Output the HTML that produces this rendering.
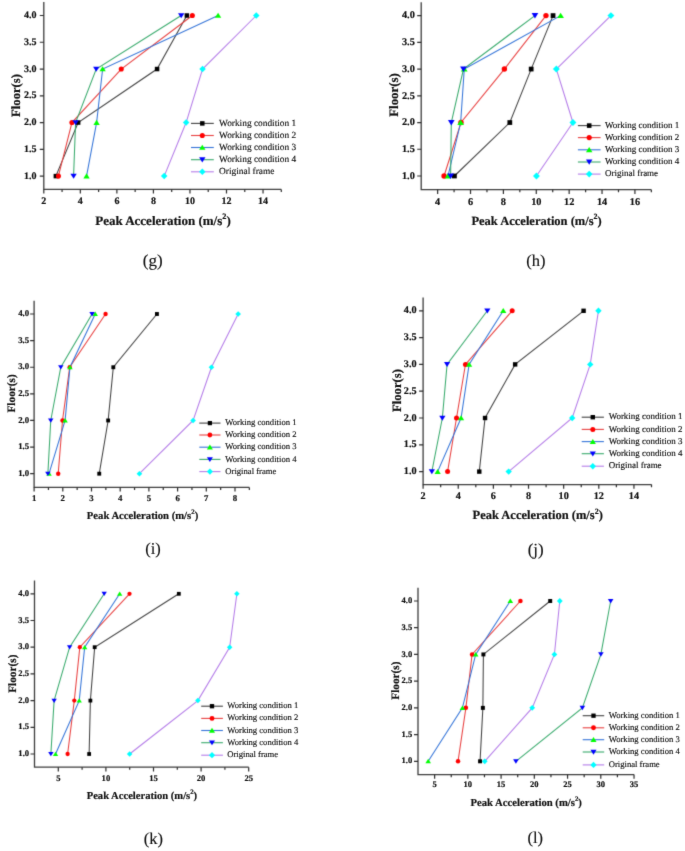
<!DOCTYPE html>
<html><head><meta charset="utf-8"><title>Figure</title>
<style>
html,body{margin:0;padding:0;background:#fff;}
body{width:685px;height:851px;overflow:hidden;}
svg{display:block;}
text{font-family:"Liberation Serif",serif;fill:#141414;text-rendering:geometricPrecision;}
.b{font-weight:bold;stroke:#141414;stroke-width:0.2px;paint-order:stroke fill;}
.r{font-weight:normal;stroke:#141414;stroke-width:0.15px;paint-order:stroke fill;}
</style></head><body>
<svg width="685" height="851" viewBox="0 0 685 851">
<defs><filter id="bl" x="0" y="0" width="685" height="851" filterUnits="userSpaceOnUse" color-interpolation-filters="sRGB"><feConvolveMatrix order="3" kernelMatrix="1 6 1 6 36 6 1 6 1" divisor="64" edgeMode="duplicate" preserveAlpha="true"/></filter><filter id="bt" x="0" y="0" width="685" height="851" filterUnits="userSpaceOnUse" color-interpolation-filters="sRGB"><feConvolveMatrix order="3" kernelMatrix="1 10 1 10 100 10 1 10 1" divisor="144" edgeMode="none"/></filter></defs>
<rect width="685" height="851" fill="#fff"/>
<g filter="url(#bl)">
<rect width="685" height="851" fill="#fff"/>
<path d="M43.80 2.12V189.40H281.31" fill="none" stroke="#3c3c3c" stroke-width="1.3"/>
<path d="M43.80 189.40v4.2 M80.34 189.40v4.2 M116.88 189.40v4.2 M153.42 189.40v4.2 M189.96 189.40v4.2 M226.50 189.40v4.2 M263.04 189.40v4.2 M62.07 189.40v2.6 M98.61 189.40v2.6 M135.15 189.40v2.6 M171.69 189.40v2.6 M208.23 189.40v2.6 M244.77 189.40v2.6 M281.31 189.40v2.6 M43.80 176.10h-4.0 M43.80 149.33h-4.0 M43.80 122.57h-4.0 M43.80 95.80h-4.0 M43.80 69.03h-4.0 M43.80 42.27h-4.0 M43.80 15.50h-4.0" fill="none" stroke="#2c2c2c" stroke-width="1.2"/>
<polyline points="55.86,176.10 78.15,122.57 157.07,69.03 186.85,15.50" fill="none" stroke="#404040" stroke-width="1.05"/>
<polyline points="58.42,176.10 71.94,122.57 121.26,69.03 192.34,15.50" fill="none" stroke="#e84040" stroke-width="1.05"/>
<polyline points="86.55,176.10 96.60,122.57 102.63,69.03 218.10,15.50" fill="none" stroke="#3474d8" stroke-width="1.05"/>
<polyline points="73.58,176.10 75.59,122.57 96.23,69.03 181.19,15.50" fill="none" stroke="#38aa6c" stroke-width="1.05"/>
<polyline points="164.20,176.10 186.12,122.57 202.57,69.03 256.28,15.50" fill="none" stroke="#b47ce8" stroke-width="1.05"/>
<rect x="53.61" y="173.86" width="4.49" height="4.49" fill="#000000"/>
<rect x="75.90" y="120.32" width="4.49" height="4.49" fill="#000000"/>
<rect x="154.83" y="66.79" width="4.49" height="4.49" fill="#000000"/>
<rect x="184.61" y="13.26" width="4.49" height="4.49" fill="#000000"/>
<circle cx="58.42" cy="176.10" r="2.55" fill="#ff0000"/>
<circle cx="71.94" cy="122.57" r="2.55" fill="#ff0000"/>
<circle cx="121.26" cy="69.03" r="2.55" fill="#ff0000"/>
<circle cx="192.34" cy="15.50" r="2.55" fill="#ff0000"/>
<path d="M86.55 173.35L89.71 178.44L83.39 178.44Z" fill="#00ff00"/>
<path d="M96.60 119.81L99.76 124.91L93.44 124.91Z" fill="#00ff00"/>
<path d="M102.63 66.28L105.79 71.37L99.47 71.37Z" fill="#00ff00"/>
<path d="M218.10 12.75L221.26 17.84L214.93 17.84Z" fill="#00ff00"/>
<path d="M73.58 178.85L76.74 173.76L70.42 173.76Z" fill="#0000ff"/>
<path d="M75.59 125.32L78.75 120.23L72.43 120.23Z" fill="#0000ff"/>
<path d="M96.23 71.79L99.40 66.69L93.07 66.69Z" fill="#0000ff"/>
<path d="M181.19 18.25L184.35 13.16L178.03 13.16Z" fill="#0000ff"/>
<path d="M164.20 172.84L167.46 176.10L164.20 179.36L160.94 176.10Z" fill="#00ffff"/>
<path d="M186.12 119.30L189.39 122.57L186.12 125.83L182.86 122.57Z" fill="#00ffff"/>
<path d="M202.57 65.77L205.83 69.03L202.57 72.30L199.30 69.03Z" fill="#00ffff"/>
<path d="M256.28 12.24L259.54 15.50L256.28 18.76L253.02 15.50Z" fill="#00ffff"/>
<line x1="191.00" y1="123.40" x2="213.80" y2="123.40" stroke="#404040" stroke-width="1.1"/>
<rect x="200.06" y="121.16" width="4.49" height="4.49" fill="#000000"/>
<line x1="191.00" y1="135.50" x2="213.80" y2="135.50" stroke="#e84040" stroke-width="1.1"/>
<circle cx="202.30" cy="135.50" r="2.55" fill="#ff0000"/>
<line x1="191.00" y1="147.50" x2="213.80" y2="147.50" stroke="#3474d8" stroke-width="1.1"/>
<path d="M202.30 144.75L205.46 149.84L199.14 149.84Z" fill="#00ff00"/>
<line x1="191.00" y1="159.70" x2="213.80" y2="159.70" stroke="#38aa6c" stroke-width="1.1"/>
<path d="M202.30 162.45L205.46 157.36L199.14 157.36Z" fill="#0000ff"/>
<line x1="191.00" y1="171.80" x2="213.80" y2="171.80" stroke="#b47ce8" stroke-width="1.1"/>
<path d="M202.30 168.54L205.56 171.80L202.30 175.06L199.04 171.80Z" fill="#00ffff"/>
<path d="M421.20 2.23V189.70H651.36" fill="none" stroke="#3c3c3c" stroke-width="1.3"/>
<path d="M437.64 189.70v4.2 M470.52 189.70v4.2 M503.40 189.70v4.2 M536.28 189.70v4.2 M569.16 189.70v4.2 M602.04 189.70v4.2 M634.92 189.70v4.2 M454.08 189.70v2.6 M486.96 189.70v2.6 M519.84 189.70v2.6 M552.72 189.70v2.6 M585.60 189.70v2.6 M618.48 189.70v2.6 M651.36 189.70v2.6 M421.20 176.00h-4.0 M421.20 149.27h-4.0 M421.20 122.53h-4.0 M421.20 95.80h-4.0 M421.20 69.07h-4.0 M421.20 42.33h-4.0 M421.20 15.60h-4.0" fill="none" stroke="#2c2c2c" stroke-width="1.2"/>
<polyline points="454.41,176.00 509.81,122.53 531.18,69.07 553.05,15.60" fill="none" stroke="#404040" stroke-width="1.05"/>
<polyline points="444.05,176.00 460.98,122.53 504.39,69.07 545.98,15.60" fill="none" stroke="#e84040" stroke-width="1.05"/>
<polyline points="448.00,176.00 460.66,122.53 464.27,69.07 560.61,15.60" fill="none" stroke="#3474d8" stroke-width="1.05"/>
<polyline points="450.63,176.00 451.29,122.53 463.45,69.07 534.96,15.60" fill="none" stroke="#38aa6c" stroke-width="1.05"/>
<polyline points="536.44,176.00 572.94,122.53 556.34,69.07 610.92,15.60" fill="none" stroke="#b47ce8" stroke-width="1.05"/>
<rect x="452.03" y="173.62" width="4.75" height="4.75" fill="#000000"/>
<rect x="507.44" y="120.16" width="4.75" height="4.75" fill="#000000"/>
<rect x="528.81" y="66.69" width="4.75" height="4.75" fill="#000000"/>
<rect x="550.67" y="13.22" width="4.75" height="4.75" fill="#000000"/>
<circle cx="444.05" cy="176.00" r="2.70" fill="#ff0000"/>
<circle cx="460.98" cy="122.53" r="2.70" fill="#ff0000"/>
<circle cx="504.39" cy="69.07" r="2.70" fill="#ff0000"/>
<circle cx="545.98" cy="15.60" r="2.70" fill="#ff0000"/>
<path d="M448.00 173.08L451.35 178.48L444.65 178.48Z" fill="#00ff00"/>
<path d="M460.66 119.62L464.00 125.01L457.31 125.01Z" fill="#00ff00"/>
<path d="M464.27 66.15L467.62 71.55L460.92 71.55Z" fill="#00ff00"/>
<path d="M560.61 12.68L563.96 18.08L557.26 18.08Z" fill="#00ff00"/>
<path d="M450.63 178.92L453.98 173.52L447.28 173.52Z" fill="#0000ff"/>
<path d="M451.29 125.45L454.63 120.05L447.94 120.05Z" fill="#0000ff"/>
<path d="M463.45 71.98L466.80 66.59L460.10 66.59Z" fill="#0000ff"/>
<path d="M534.96 18.52L538.31 13.12L531.62 13.12Z" fill="#0000ff"/>
<path d="M536.44 172.54L539.90 176.00L536.44 179.46L532.99 176.00Z" fill="#00ffff"/>
<path d="M572.94 119.08L576.40 122.53L572.94 125.99L569.49 122.53Z" fill="#00ffff"/>
<path d="M556.34 65.61L559.79 69.07L556.34 72.52L552.88 69.07Z" fill="#00ffff"/>
<path d="M610.92 12.14L614.37 15.60L610.92 19.06L607.46 15.60Z" fill="#00ffff"/>
<line x1="577.90" y1="125.60" x2="600.60" y2="125.60" stroke="#404040" stroke-width="1.1"/>
<rect x="586.91" y="123.31" width="4.58" height="4.58" fill="#000000"/>
<line x1="577.90" y1="137.60" x2="600.60" y2="137.60" stroke="#e84040" stroke-width="1.1"/>
<circle cx="589.20" cy="137.60" r="2.60" fill="#ff0000"/>
<line x1="577.90" y1="149.80" x2="600.60" y2="149.80" stroke="#3474d8" stroke-width="1.1"/>
<path d="M589.20 146.99L592.42 152.19L585.98 152.19Z" fill="#00ff00"/>
<line x1="577.90" y1="162.00" x2="600.60" y2="162.00" stroke="#38aa6c" stroke-width="1.1"/>
<path d="M589.20 164.81L592.42 159.61L585.98 159.61Z" fill="#0000ff"/>
<line x1="577.90" y1="174.10" x2="600.60" y2="174.10" stroke="#b47ce8" stroke-width="1.1"/>
<path d="M589.20 170.77L592.53 174.10L589.20 177.43L585.87 174.10Z" fill="#00ffff"/>
<path d="M34.10 300.69V487.40H249.35" fill="none" stroke="#3c3c3c" stroke-width="1.3"/>
<path d="M34.10 487.40v4.2 M62.80 487.40v4.2 M91.50 487.40v4.2 M120.20 487.40v4.2 M148.90 487.40v4.2 M177.60 487.40v4.2 M206.30 487.40v4.2 M235.00 487.40v4.2 M48.45 487.40v2.6 M77.15 487.40v2.6 M105.85 487.40v2.6 M134.55 487.40v2.6 M163.25 487.40v2.6 M191.95 487.40v2.6 M220.65 487.40v2.6 M249.35 487.40v2.6 M34.10 473.70h-4.0 M34.10 447.08h-4.0 M34.10 420.47h-4.0 M34.10 393.85h-4.0 M34.10 367.23h-4.0 M34.10 340.62h-4.0 M34.10 314.00h-4.0" fill="none" stroke="#2c2c2c" stroke-width="1.2"/>
<polyline points="99.25,473.70 108.15,420.47 113.31,367.23 156.94,314.00" fill="none" stroke="#404040" stroke-width="1.05"/>
<polyline points="58.21,473.70 62.51,420.47 69.69,367.23 105.56,314.00" fill="none" stroke="#e84040" stroke-width="1.05"/>
<polyline points="49.02,473.70 65.10,420.47 69.97,367.23 95.23,314.00" fill="none" stroke="#3474d8" stroke-width="1.05"/>
<polyline points="47.88,473.70 50.75,420.47 60.79,367.23 92.07,314.00" fill="none" stroke="#38aa6c" stroke-width="1.05"/>
<polyline points="139.43,473.70 193.10,420.47 211.47,367.23 238.16,314.00" fill="none" stroke="#b47ce8" stroke-width="1.05"/>
<rect x="97.31" y="471.76" width="3.87" height="3.87" fill="#000000"/>
<rect x="106.21" y="418.53" width="3.87" height="3.87" fill="#000000"/>
<rect x="111.38" y="365.30" width="3.87" height="3.87" fill="#000000"/>
<rect x="155.00" y="312.06" width="3.87" height="3.87" fill="#000000"/>
<circle cx="58.21" cy="473.70" r="2.20" fill="#ff0000"/>
<circle cx="62.51" cy="420.47" r="2.20" fill="#ff0000"/>
<circle cx="69.69" cy="367.23" r="2.20" fill="#ff0000"/>
<circle cx="105.56" cy="314.00" r="2.20" fill="#ff0000"/>
<path d="M49.02 471.32L51.75 475.72L46.30 475.72Z" fill="#00ff00"/>
<path d="M65.10 418.09L67.82 422.49L62.37 422.49Z" fill="#00ff00"/>
<path d="M69.97 364.86L72.70 369.25L67.25 369.25Z" fill="#00ff00"/>
<path d="M95.23 311.62L97.96 316.02L92.50 316.02Z" fill="#00ff00"/>
<path d="M47.88 476.08L50.60 471.68L45.15 471.68Z" fill="#0000ff"/>
<path d="M50.75 422.84L53.47 418.45L48.02 418.45Z" fill="#0000ff"/>
<path d="M60.79 369.61L63.52 365.21L58.06 365.21Z" fill="#0000ff"/>
<path d="M92.07 316.38L94.80 311.98L89.35 311.98Z" fill="#0000ff"/>
<path d="M139.43 470.88L142.25 473.70L139.43 476.52L136.61 473.70Z" fill="#00ffff"/>
<path d="M193.10 417.65L195.91 420.47L193.10 423.28L190.28 420.47Z" fill="#00ffff"/>
<path d="M211.47 364.42L214.28 367.23L211.47 370.05L208.65 367.23Z" fill="#00ffff"/>
<path d="M238.16 311.18L240.97 314.00L238.16 316.82L235.34 314.00Z" fill="#00ffff"/>
<line x1="199.30" y1="423.10" x2="220.50" y2="423.10" stroke="#404040" stroke-width="1.1"/>
<rect x="207.79" y="420.99" width="4.22" height="4.22" fill="#000000"/>
<line x1="199.30" y1="435.00" x2="220.50" y2="435.00" stroke="#e84040" stroke-width="1.1"/>
<circle cx="209.90" cy="435.00" r="2.40" fill="#ff0000"/>
<line x1="199.30" y1="447.20" x2="220.50" y2="447.20" stroke="#3474d8" stroke-width="1.1"/>
<path d="M209.90 444.61L212.88 449.40L206.92 449.40Z" fill="#00ff00"/>
<line x1="199.30" y1="459.40" x2="220.50" y2="459.40" stroke="#38aa6c" stroke-width="1.1"/>
<path d="M209.90 461.99L212.88 457.20L206.92 457.20Z" fill="#0000ff"/>
<line x1="199.30" y1="471.60" x2="220.50" y2="471.60" stroke="#b47ce8" stroke-width="1.1"/>
<path d="M209.90 468.53L212.97 471.60L209.90 474.67L206.83 471.60Z" fill="#00ffff"/>
<path d="M423.10 297.40V484.60H651.51" fill="none" stroke="#3c3c3c" stroke-width="1.3"/>
<path d="M423.10 484.60v4.2 M458.24 484.60v4.2 M493.38 484.60v4.2 M528.52 484.60v4.2 M563.66 484.60v4.2 M598.80 484.60v4.2 M633.94 484.60v4.2 M440.67 484.60v2.6 M475.81 484.60v2.6 M510.95 484.60v2.6 M546.09 484.60v2.6 M581.23 484.60v2.6 M616.37 484.60v2.6 M651.51 484.60v2.6 M423.10 471.60h-4.0 M423.10 444.80h-4.0 M423.10 418.00h-4.0 M423.10 391.20h-4.0 M423.10 364.40h-4.0 M423.10 337.60h-4.0 M423.10 310.80h-4.0" fill="none" stroke="#2c2c2c" stroke-width="1.2"/>
<polyline points="479.28,471.60 485.05,418.00 515.15,364.40 583.58,310.80" fill="none" stroke="#404040" stroke-width="1.05"/>
<polyline points="447.60,471.60 456.53,418.00 465.45,364.40 512.18,310.80" fill="none" stroke="#e84040" stroke-width="1.05"/>
<polyline points="437.62,471.60 461.07,418.00 469.12,364.40 503.25,310.80" fill="none" stroke="#3474d8" stroke-width="1.05"/>
<polyline points="431.85,471.60 442.35,418.00 447.08,364.40 487.32,310.80" fill="none" stroke="#38aa6c" stroke-width="1.05"/>
<polyline points="508.68,471.60 572.20,418.00 590.23,364.40 598.45,310.80" fill="none" stroke="#b47ce8" stroke-width="1.05"/>
<rect x="477.08" y="469.40" width="4.40" height="4.40" fill="#000000"/>
<rect x="482.85" y="415.80" width="4.40" height="4.40" fill="#000000"/>
<rect x="512.95" y="362.20" width="4.40" height="4.40" fill="#000000"/>
<rect x="581.38" y="308.60" width="4.40" height="4.40" fill="#000000"/>
<circle cx="447.60" cy="471.60" r="2.50" fill="#ff0000"/>
<circle cx="456.53" cy="418.00" r="2.50" fill="#ff0000"/>
<circle cx="465.45" cy="364.40" r="2.50" fill="#ff0000"/>
<circle cx="512.18" cy="310.80" r="2.50" fill="#ff0000"/>
<path d="M437.62 468.90L440.73 473.90L434.52 473.90Z" fill="#00ff00"/>
<path d="M461.07 415.30L464.18 420.30L457.97 420.30Z" fill="#00ff00"/>
<path d="M469.12 361.70L472.23 366.70L466.02 366.70Z" fill="#00ff00"/>
<path d="M503.25 308.10L506.35 313.10L500.15 313.10Z" fill="#00ff00"/>
<path d="M431.85 474.30L434.95 469.31L428.75 469.31Z" fill="#0000ff"/>
<path d="M442.35 420.70L445.45 415.70L439.25 415.70Z" fill="#0000ff"/>
<path d="M447.08 367.10L450.18 362.11L443.98 362.11Z" fill="#0000ff"/>
<path d="M487.32 313.50L490.43 308.50L484.22 308.50Z" fill="#0000ff"/>
<path d="M508.68 468.40L511.88 471.60L508.68 474.80L505.48 471.60Z" fill="#00ffff"/>
<path d="M572.20 414.80L575.40 418.00L572.20 421.20L569.00 418.00Z" fill="#00ffff"/>
<path d="M590.23 361.20L593.43 364.40L590.23 367.60L587.02 364.40Z" fill="#00ffff"/>
<path d="M598.45 307.60L601.65 310.80L598.45 314.00L595.25 310.80Z" fill="#00ffff"/>
<line x1="581.70" y1="417.20" x2="603.90" y2="417.20" stroke="#404040" stroke-width="1.1"/>
<rect x="590.60" y="415.00" width="4.40" height="4.40" fill="#000000"/>
<line x1="581.70" y1="429.40" x2="603.90" y2="429.40" stroke="#e84040" stroke-width="1.1"/>
<circle cx="592.80" cy="429.40" r="2.50" fill="#ff0000"/>
<line x1="581.70" y1="441.60" x2="603.90" y2="441.60" stroke="#3474d8" stroke-width="1.1"/>
<path d="M592.80 438.90L595.90 443.90L589.70 443.90Z" fill="#00ff00"/>
<line x1="581.70" y1="453.70" x2="603.90" y2="453.70" stroke="#38aa6c" stroke-width="1.1"/>
<path d="M592.80 456.40L595.90 451.40L589.70 451.40Z" fill="#0000ff"/>
<line x1="581.70" y1="466.20" x2="603.90" y2="466.20" stroke="#b47ce8" stroke-width="1.1"/>
<path d="M592.80 463.00L596.00 466.20L592.80 469.40L589.60 466.20Z" fill="#00ffff"/>
<path d="M34.50 580.45V767.20H248.70" fill="none" stroke="#3c3c3c" stroke-width="1.3"/>
<path d="M58.30 767.20v4.2 M105.90 767.20v4.2 M153.50 767.20v4.2 M201.10 767.20v4.2 M248.70 767.20v4.2 M82.10 767.20v2.6 M129.70 767.20v2.6 M177.30 767.20v2.6 M224.90 767.20v2.6 M34.50 754.00h-4.0 M34.50 727.30h-4.0 M34.50 700.60h-4.0 M34.50 673.90h-4.0 M34.50 647.20h-4.0 M34.50 620.50h-4.0 M34.50 593.80h-4.0" fill="none" stroke="#2c2c2c" stroke-width="1.2"/>
<polyline points="89.14,754.00 90.38,700.60 94.67,647.20 178.82,593.80" fill="none" stroke="#404040" stroke-width="1.05"/>
<polyline points="67.63,754.00 74.29,700.60 79.82,647.20 129.51,593.80" fill="none" stroke="#e84040" stroke-width="1.05"/>
<polyline points="55.54,754.00 79.24,700.60 84.67,647.20 119.70,593.80" fill="none" stroke="#3474d8" stroke-width="1.05"/>
<polyline points="50.87,754.00 54.11,700.60 69.63,647.20 104.19,593.80" fill="none" stroke="#38aa6c" stroke-width="1.05"/>
<polyline points="129.60,754.00 197.86,700.60 229.66,647.20 236.90,593.80" fill="none" stroke="#b47ce8" stroke-width="1.05"/>
<rect x="87.25" y="752.11" width="3.78" height="3.78" fill="#000000"/>
<rect x="88.49" y="698.71" width="3.78" height="3.78" fill="#000000"/>
<rect x="92.77" y="645.31" width="3.78" height="3.78" fill="#000000"/>
<rect x="176.93" y="591.91" width="3.78" height="3.78" fill="#000000"/>
<circle cx="67.63" cy="754.00" r="2.15" fill="#ff0000"/>
<circle cx="74.29" cy="700.60" r="2.15" fill="#ff0000"/>
<circle cx="79.82" cy="647.20" r="2.15" fill="#ff0000"/>
<circle cx="129.51" cy="593.80" r="2.15" fill="#ff0000"/>
<path d="M55.54 751.68L58.21 755.97L52.87 755.97Z" fill="#00ff00"/>
<path d="M79.24 698.28L81.91 702.57L76.58 702.57Z" fill="#00ff00"/>
<path d="M84.67 644.88L87.34 649.17L82.00 649.17Z" fill="#00ff00"/>
<path d="M119.70 591.48L122.37 595.77L117.04 595.77Z" fill="#00ff00"/>
<path d="M50.87 756.32L53.54 752.03L48.21 752.03Z" fill="#0000ff"/>
<path d="M54.11 702.92L56.78 698.63L51.45 698.63Z" fill="#0000ff"/>
<path d="M69.63 649.52L72.29 645.23L66.96 645.23Z" fill="#0000ff"/>
<path d="M104.19 596.12L106.85 591.83L101.52 591.83Z" fill="#0000ff"/>
<path d="M129.60 751.25L132.36 754.00L129.60 756.75L126.85 754.00Z" fill="#00ffff"/>
<path d="M197.86 697.85L200.62 700.60L197.86 703.35L195.11 700.60Z" fill="#00ffff"/>
<path d="M229.66 644.45L232.41 647.20L229.66 649.95L226.91 647.20Z" fill="#00ffff"/>
<path d="M236.90 591.05L239.65 593.80L236.90 596.55L234.14 593.80Z" fill="#00ffff"/>
<line x1="201.20" y1="706.20" x2="222.90" y2="706.20" stroke="#404040" stroke-width="1.1"/>
<rect x="209.84" y="704.04" width="4.31" height="4.31" fill="#000000"/>
<line x1="201.20" y1="718.40" x2="222.90" y2="718.40" stroke="#e84040" stroke-width="1.1"/>
<circle cx="212.00" cy="718.40" r="2.45" fill="#ff0000"/>
<line x1="201.20" y1="730.50" x2="222.90" y2="730.50" stroke="#3474d8" stroke-width="1.1"/>
<path d="M212.00 727.85L215.04 732.75L208.96 732.75Z" fill="#00ff00"/>
<line x1="201.20" y1="742.70" x2="222.90" y2="742.70" stroke="#38aa6c" stroke-width="1.1"/>
<path d="M212.00 745.35L215.04 740.45L208.96 740.45Z" fill="#0000ff"/>
<line x1="201.20" y1="755.20" x2="222.90" y2="755.20" stroke="#b47ce8" stroke-width="1.1"/>
<path d="M212.00 752.06L215.14 755.20L212.00 758.34L208.86 755.20Z" fill="#00ffff"/>
<path d="M418.00 587.64V774.60H634.03" fill="none" stroke="#3c3c3c" stroke-width="1.3"/>
<path d="M434.62 774.60v4.2 M467.85 774.60v4.2 M501.09 774.60v4.2 M534.32 774.60v4.2 M567.56 774.60v4.2 M600.79 774.60v4.2 M634.03 774.60v4.2 M451.24 774.60v2.6 M484.47 774.60v2.6 M517.71 774.60v2.6 M550.94 774.60v2.6 M584.17 774.60v2.6 M617.41 774.60v2.6 M418.00 761.30h-4.0 M418.00 734.58h-4.0 M418.00 707.87h-4.0 M418.00 681.15h-4.0 M418.00 654.43h-4.0 M418.00 627.72h-4.0 M418.00 601.00h-4.0" fill="none" stroke="#2c2c2c" stroke-width="1.2"/>
<polyline points="480.07,761.30 482.87,707.87 483.40,654.43 550.20,601.00" fill="none" stroke="#404040" stroke-width="1.05"/>
<polyline points="458.03,761.30 465.89,707.87 472.08,654.43 520.43,601.00" fill="none" stroke="#e84040" stroke-width="1.05"/>
<polyline points="428.19,761.30 462.42,707.87 475.68,654.43 510.31,601.00" fill="none" stroke="#3474d8" stroke-width="1.05"/>
<polyline points="515.90,761.30 582.37,707.87 600.88,654.43 610.67,601.00" fill="none" stroke="#38aa6c" stroke-width="1.05"/>
<polyline points="484.73,761.30 532.22,707.87 554.40,654.43 559.79,601.00" fill="none" stroke="#b47ce8" stroke-width="1.05"/>
<rect x="478.09" y="759.32" width="3.96" height="3.96" fill="#000000"/>
<rect x="480.89" y="705.89" width="3.96" height="3.96" fill="#000000"/>
<rect x="481.42" y="652.45" width="3.96" height="3.96" fill="#000000"/>
<rect x="548.22" y="599.02" width="3.96" height="3.96" fill="#000000"/>
<circle cx="458.03" cy="761.30" r="2.25" fill="#ff0000"/>
<circle cx="465.89" cy="707.87" r="2.25" fill="#ff0000"/>
<circle cx="472.08" cy="654.43" r="2.25" fill="#ff0000"/>
<circle cx="520.43" cy="601.00" r="2.25" fill="#ff0000"/>
<path d="M428.19 758.87L430.98 763.37L425.40 763.37Z" fill="#00ff00"/>
<path d="M462.42 705.44L465.21 709.93L459.63 709.93Z" fill="#00ff00"/>
<path d="M475.68 652.00L478.47 656.50L472.89 656.50Z" fill="#00ff00"/>
<path d="M510.31 598.57L513.10 603.07L507.52 603.07Z" fill="#00ff00"/>
<path d="M515.90 763.73L518.69 759.23L513.11 759.23Z" fill="#0000ff"/>
<path d="M582.37 710.30L585.16 705.80L579.58 705.80Z" fill="#0000ff"/>
<path d="M600.88 656.86L603.67 652.37L598.09 652.37Z" fill="#0000ff"/>
<path d="M610.67 603.43L613.46 598.93L607.88 598.93Z" fill="#0000ff"/>
<path d="M484.73 758.42L487.61 761.30L484.73 764.18L481.85 761.30Z" fill="#00ffff"/>
<path d="M532.22 704.99L535.10 707.87L532.22 710.75L529.34 707.87Z" fill="#00ffff"/>
<path d="M554.40 651.55L557.28 654.43L554.40 657.31L551.52 654.43Z" fill="#00ffff"/>
<path d="M559.79 598.12L562.67 601.00L559.79 603.88L556.91 601.00Z" fill="#00ffff"/>
<line x1="582.70" y1="715.70" x2="604.20" y2="715.70" stroke="#404040" stroke-width="1.1"/>
<rect x="591.34" y="713.54" width="4.31" height="4.31" fill="#000000"/>
<line x1="582.70" y1="727.80" x2="604.20" y2="727.80" stroke="#e84040" stroke-width="1.1"/>
<circle cx="593.50" cy="727.80" r="2.45" fill="#ff0000"/>
<line x1="582.70" y1="739.70" x2="604.20" y2="739.70" stroke="#3474d8" stroke-width="1.1"/>
<path d="M593.50 737.05L596.54 741.95L590.46 741.95Z" fill="#00ff00"/>
<line x1="582.70" y1="752.00" x2="604.20" y2="752.00" stroke="#38aa6c" stroke-width="1.1"/>
<path d="M593.50 754.65L596.54 749.75L590.46 749.75Z" fill="#0000ff"/>
<line x1="582.70" y1="764.90" x2="604.20" y2="764.90" stroke="#b47ce8" stroke-width="1.1"/>
<path d="M593.50 761.76L596.64 764.90L593.50 768.04L590.36 764.90Z" fill="#00ffff"/>
</g>
<g filter="url(#bt)">
<text x="43.80" y="204.00" text-anchor="middle" class="b" font-size="10">2</text>
<text x="80.34" y="204.00" text-anchor="middle" class="b" font-size="10">4</text>
<text x="116.88" y="204.00" text-anchor="middle" class="b" font-size="10">6</text>
<text x="153.42" y="204.00" text-anchor="middle" class="b" font-size="10">8</text>
<text x="189.96" y="204.00" text-anchor="middle" class="b" font-size="10">10</text>
<text x="226.50" y="204.00" text-anchor="middle" class="b" font-size="10">12</text>
<text x="263.04" y="204.00" text-anchor="middle" class="b" font-size="10">14</text>
<text x="36.50" y="178.70" text-anchor="end" class="b" font-size="10">1.0</text>
<text x="36.50" y="151.93" text-anchor="end" class="b" font-size="10">1.5</text>
<text x="36.50" y="125.17" text-anchor="end" class="b" font-size="10">2.0</text>
<text x="36.50" y="98.40" text-anchor="end" class="b" font-size="10">2.5</text>
<text x="36.50" y="71.63" text-anchor="end" class="b" font-size="10">3.0</text>
<text x="36.50" y="44.87" text-anchor="end" class="b" font-size="10">3.5</text>
<text x="36.50" y="18.10" text-anchor="end" class="b" font-size="10">4.0</text>
<text x="219.10" y="125.74" class="r" font-size="9.35">Working condition 1</text>
<text x="219.10" y="137.84" class="r" font-size="9.35">Working condition 2</text>
<text x="219.10" y="149.84" class="r" font-size="9.35">Working condition 3</text>
<text x="219.10" y="162.04" class="r" font-size="9.35">Working condition 4</text>
<text x="219.10" y="174.14" class="r" font-size="9.35">Original frame</text>
<text x="163.00" y="224.80" text-anchor="middle" class="b" font-size="13.0">Peak Acceleration (m/s<tspan font-size="8.32" dy="-5.85">2</tspan><tspan dy="5.85">)</tspan></text>
<text transform="translate(20.19 95.50) rotate(-90)" text-anchor="middle" class="b" font-size="12.7">Floor(s)</text>
<text x="152.70" y="266.20" text-anchor="middle" class="r" font-size="17">(g)</text>
<text x="437.64" y="204.50" text-anchor="middle" class="b" font-size="10.3">4</text>
<text x="470.52" y="204.50" text-anchor="middle" class="b" font-size="10.3">6</text>
<text x="503.40" y="204.50" text-anchor="middle" class="b" font-size="10.3">8</text>
<text x="536.28" y="204.50" text-anchor="middle" class="b" font-size="10.3">10</text>
<text x="569.16" y="204.50" text-anchor="middle" class="b" font-size="10.3">12</text>
<text x="602.04" y="204.50" text-anchor="middle" class="b" font-size="10.3">14</text>
<text x="634.92" y="204.50" text-anchor="middle" class="b" font-size="10.3">16</text>
<text x="414.80" y="178.70" text-anchor="end" class="b" font-size="10.3">1.0</text>
<text x="414.80" y="151.97" text-anchor="end" class="b" font-size="10.3">1.5</text>
<text x="414.80" y="125.24" text-anchor="end" class="b" font-size="10.3">2.0</text>
<text x="414.80" y="98.50" text-anchor="end" class="b" font-size="10.3">2.5</text>
<text x="414.80" y="71.77" text-anchor="end" class="b" font-size="10.3">3.0</text>
<text x="414.80" y="45.04" text-anchor="end" class="b" font-size="10.3">3.5</text>
<text x="414.80" y="18.30" text-anchor="end" class="b" font-size="10.3">4.0</text>
<text x="604.90" y="127.82" class="r" font-size="9.0">Working condition 1</text>
<text x="604.90" y="139.82" class="r" font-size="9.0">Working condition 2</text>
<text x="604.90" y="152.02" class="r" font-size="9.0">Working condition 3</text>
<text x="604.90" y="164.22" class="r" font-size="9.0">Working condition 4</text>
<text x="604.90" y="176.32" class="r" font-size="9.0">Original frame</text>
<text x="536.60" y="224.80" text-anchor="middle" class="b" font-size="12.5">Peak Acceleration (m/s<tspan font-size="8.00" dy="-5.62">2</tspan><tspan dy="5.62">)</tspan></text>
<text transform="translate(398.26 95.00) rotate(-90)" text-anchor="middle" class="b" font-size="12.9">Floor(s)</text>
<text x="535.90" y="266.00" text-anchor="middle" class="r" font-size="16.5">(h)</text>
<text x="34.10" y="500.50" text-anchor="middle" class="b" font-size="8.8">1</text>
<text x="62.80" y="500.50" text-anchor="middle" class="b" font-size="8.8">2</text>
<text x="91.50" y="500.50" text-anchor="middle" class="b" font-size="8.8">3</text>
<text x="120.20" y="500.50" text-anchor="middle" class="b" font-size="8.8">4</text>
<text x="148.90" y="500.50" text-anchor="middle" class="b" font-size="8.8">5</text>
<text x="177.60" y="500.50" text-anchor="middle" class="b" font-size="8.8">6</text>
<text x="206.30" y="500.50" text-anchor="middle" class="b" font-size="8.8">7</text>
<text x="235.00" y="500.50" text-anchor="middle" class="b" font-size="8.8">8</text>
<text x="29.20" y="475.89" text-anchor="end" class="b" font-size="8.8">1.0</text>
<text x="29.20" y="449.28" text-anchor="end" class="b" font-size="8.8">1.5</text>
<text x="29.20" y="422.66" text-anchor="end" class="b" font-size="8.8">2.0</text>
<text x="29.20" y="396.04" text-anchor="end" class="b" font-size="8.8">2.5</text>
<text x="29.20" y="369.43" text-anchor="end" class="b" font-size="8.8">3.0</text>
<text x="29.20" y="342.81" text-anchor="end" class="b" font-size="8.8">3.5</text>
<text x="29.20" y="316.19" text-anchor="end" class="b" font-size="8.8">4.0</text>
<text x="225.30" y="425.20" class="r" font-size="8.65">Working condition 1</text>
<text x="225.30" y="437.10" class="r" font-size="8.65">Working condition 2</text>
<text x="225.30" y="449.30" class="r" font-size="8.65">Working condition 3</text>
<text x="225.30" y="461.50" class="r" font-size="8.65">Working condition 4</text>
<text x="225.30" y="473.70" class="r" font-size="8.65">Original frame</text>
<text x="142.50" y="519.20" text-anchor="middle" class="b" font-size="10.7">Peak Acceleration (m/s<tspan font-size="6.85" dy="-4.81">2</tspan><tspan dy="4.81">)</tspan></text>
<text transform="translate(15.13 393.40) rotate(-90)" text-anchor="middle" class="b" font-size="11.3">Floor(s)</text>
<text x="153.00" y="553.60" text-anchor="middle" class="r" font-size="16.5">(i)</text>
<text x="423.10" y="499.00" text-anchor="middle" class="b" font-size="10.2">2</text>
<text x="458.24" y="499.00" text-anchor="middle" class="b" font-size="10.2">4</text>
<text x="493.38" y="499.00" text-anchor="middle" class="b" font-size="10.2">6</text>
<text x="528.52" y="499.00" text-anchor="middle" class="b" font-size="10.2">8</text>
<text x="563.66" y="499.00" text-anchor="middle" class="b" font-size="10.2">10</text>
<text x="598.80" y="499.00" text-anchor="middle" class="b" font-size="10.2">12</text>
<text x="633.94" y="499.00" text-anchor="middle" class="b" font-size="10.2">14</text>
<text x="416.60" y="474.27" text-anchor="end" class="b" font-size="10.2">1.0</text>
<text x="416.60" y="447.47" text-anchor="end" class="b" font-size="10.2">1.5</text>
<text x="416.60" y="420.67" text-anchor="end" class="b" font-size="10.2">2.0</text>
<text x="416.60" y="393.87" text-anchor="end" class="b" font-size="10.2">2.5</text>
<text x="416.60" y="367.07" text-anchor="end" class="b" font-size="10.2">3.0</text>
<text x="416.60" y="340.27" text-anchor="end" class="b" font-size="10.2">3.5</text>
<text x="416.60" y="313.47" text-anchor="end" class="b" font-size="10.2">4.0</text>
<text x="608.70" y="419.40" class="r" font-size="8.95">Working condition 1</text>
<text x="608.70" y="431.60" class="r" font-size="8.95">Working condition 2</text>
<text x="608.70" y="443.80" class="r" font-size="8.95">Working condition 3</text>
<text x="608.70" y="455.90" class="r" font-size="8.95">Working condition 4</text>
<text x="608.70" y="468.40" class="r" font-size="8.95">Original frame</text>
<text x="537.70" y="519.20" text-anchor="middle" class="b" font-size="12.5">Peak Acceleration (m/s<tspan font-size="8.00" dy="-5.62">2</tspan><tspan dy="5.62">)</tspan></text>
<text transform="translate(400.59 390.60) rotate(-90)" text-anchor="middle" class="b" font-size="12.7">Floor(s)</text>
<text x="535.70" y="555.00" text-anchor="middle" class="r" font-size="17">(j)</text>
<text x="58.30" y="780.50" text-anchor="middle" class="b" font-size="8.6">5</text>
<text x="105.90" y="780.50" text-anchor="middle" class="b" font-size="8.6">10</text>
<text x="153.50" y="780.50" text-anchor="middle" class="b" font-size="8.6">15</text>
<text x="201.10" y="780.50" text-anchor="middle" class="b" font-size="8.6">20</text>
<text x="248.70" y="780.50" text-anchor="middle" class="b" font-size="8.6">25</text>
<text x="29.10" y="756.12" text-anchor="end" class="b" font-size="8.6">1.0</text>
<text x="29.10" y="729.42" text-anchor="end" class="b" font-size="8.6">1.5</text>
<text x="29.10" y="702.72" text-anchor="end" class="b" font-size="8.6">2.0</text>
<text x="29.10" y="676.02" text-anchor="end" class="b" font-size="8.6">2.5</text>
<text x="29.10" y="649.32" text-anchor="end" class="b" font-size="8.6">3.0</text>
<text x="29.10" y="622.62" text-anchor="end" class="b" font-size="8.6">3.5</text>
<text x="29.10" y="595.92" text-anchor="end" class="b" font-size="8.6">4.0</text>
<text x="227.30" y="708.29" class="r" font-size="8.6">Working condition 1</text>
<text x="227.30" y="720.49" class="r" font-size="8.6">Working condition 2</text>
<text x="227.30" y="732.59" class="r" font-size="8.6">Working condition 3</text>
<text x="227.30" y="744.79" class="r" font-size="8.6">Working condition 4</text>
<text x="227.30" y="757.29" class="r" font-size="8.6">Original frame</text>
<text x="141.90" y="799.10" text-anchor="middle" class="b" font-size="10.6">Peak Acceleration (m/s<tspan font-size="6.78" dy="-4.77">2</tspan><tspan dy="4.77">)</tspan></text>
<text transform="translate(15.73 673.70) rotate(-90)" text-anchor="middle" class="b" font-size="11.3">Floor(s)</text>
<text x="153.30" y="844.00" text-anchor="middle" class="r" font-size="16.5">(k)</text>
<text x="434.62" y="787.30" text-anchor="middle" class="b" font-size="8.5">5</text>
<text x="467.85" y="787.30" text-anchor="middle" class="b" font-size="8.5">10</text>
<text x="501.09" y="787.30" text-anchor="middle" class="b" font-size="8.5">15</text>
<text x="534.32" y="787.30" text-anchor="middle" class="b" font-size="8.5">20</text>
<text x="567.56" y="787.30" text-anchor="middle" class="b" font-size="8.5">25</text>
<text x="600.79" y="787.30" text-anchor="middle" class="b" font-size="8.5">30</text>
<text x="634.03" y="787.30" text-anchor="middle" class="b" font-size="8.5">35</text>
<text x="412.20" y="763.39" text-anchor="end" class="b" font-size="8.5">1.0</text>
<text x="412.20" y="736.67" text-anchor="end" class="b" font-size="8.5">1.5</text>
<text x="412.20" y="709.96" text-anchor="end" class="b" font-size="8.5">2.0</text>
<text x="412.20" y="683.24" text-anchor="end" class="b" font-size="8.5">2.5</text>
<text x="412.20" y="656.52" text-anchor="end" class="b" font-size="8.5">3.0</text>
<text x="412.20" y="629.81" text-anchor="end" class="b" font-size="8.5">3.5</text>
<text x="412.20" y="603.09" text-anchor="end" class="b" font-size="8.5">4.0</text>
<text x="608.70" y="717.80" class="r" font-size="8.65">Working condition 1</text>
<text x="608.70" y="729.90" class="r" font-size="8.65">Working condition 2</text>
<text x="608.70" y="741.80" class="r" font-size="8.65">Working condition 3</text>
<text x="608.70" y="754.10" class="r" font-size="8.65">Working condition 4</text>
<text x="608.70" y="767.00" class="r" font-size="8.65">Original frame</text>
<text x="526.20" y="806.10" text-anchor="middle" class="b" font-size="10.7">Peak Acceleration (m/s<tspan font-size="6.85" dy="-4.81">2</tspan><tspan dy="4.81">)</tspan></text>
<text transform="translate(398.73 680.60) rotate(-90)" text-anchor="middle" class="b" font-size="11.3">Floor(s)</text>
<text x="535.30" y="842.60" text-anchor="middle" class="r" font-size="16.5">(l)</text>
</g>
</svg>
</body></html>
